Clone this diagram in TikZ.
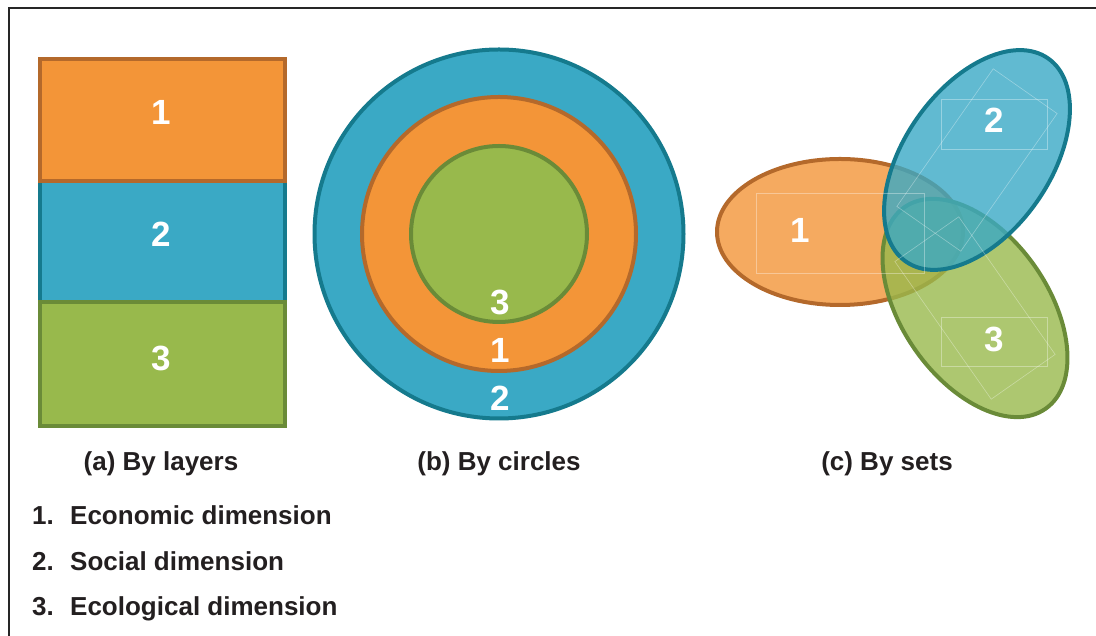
\documentclass[tikz,border=0pt]{standalone}
\usepackage{fontspec}
\setmainfont{Liberation Sans}
\usepackage{tikz}
\usetikzlibrary{calc}

\definecolor{orfill}{HTML}{F39538}
\definecolor{ordraw}{HTML}{B4692B}
\definecolor{blfill}{HTML}{3AA9C5}
\definecolor{bldraw}{HTML}{157A8D}
\definecolor{grfill}{HTML}{98B94C}
\definecolor{grdraw}{HTML}{6A8B38}
\definecolor{txt}{HTML}{231F20}

\begin{document}
\begin{tikzpicture}[x=1pt,y=1pt,
  num/.style={text=white, font=\fontsize{35}{35}\selectfont\bfseries, inner sep=0pt},
  captext/.style={text=txt, font=\fontsize{26}{26}\selectfont\bfseries, inner sep=0pt, anchor=base},
  part/.style={line width=4},
  set/.style={line width=4, fill opacity=0.8},
  guide/.style={draw=white, line width=0.6, opacity=0.35}]
\useasboundingbox (0,0) rectangle (1096,636);
\draw[line width=1.5, black!85] (9,-5)--(9,628)--(1101,628);

% (a) by layers
\draw[part, fill=blfill, draw=bldraw] (40,334) rectangle (285,455);
\draw[part, fill=orfill, draw=ordraw] (40,455) rectangle (285,577);
\draw[part, fill=grfill, draw=grdraw] (40,210) rectangle (285,334);
\node[num] (a1) at (161,524) {1};
\node[num] (a2) at (161,401.5) {2};
\node[num] (a3) at (161,278) {3};

% (b) by circles
\draw[part, fill=blfill, draw=bldraw] (499,402) circle (184.5);
\draw[part, fill=orfill, draw=ordraw] (499,402) circle (137);
\draw[part, fill=grfill, draw=grdraw] (499,402) circle (88);
\node[num] (b3) at (500,334) {3};
\node[num] (b1) at (500,285.5) {1};
\node[num] (b2) at (500,237.5) {2};

% (c) by sets
\draw[set, fill=orfill, draw=ordraw] (840,404) ellipse [x radius=123, y radius=73];
\draw[set, fill=grfill, draw=grdraw, rotate around={-55:(975,328)}] (975,328) ellipse [x radius=123, y radius=73];
\draw[set, fill=blfill, draw=bldraw, rotate around={55:(977,476)}] (977,476) ellipse [x radius=124, y radius=73];
\draw[guide] (756,363) rectangle (924,443);
\draw[guide] (941,487) rectangle (1047,537);
\draw[guide] (941,270) rectangle (1047,319);
\draw[guide, shift={(977,476)}, rotate=55] (-84,-39)--(84,-39)--(84,39)--(-84,39)--cycle;
\draw[guide, shift={(975,328)}, rotate=-55] (-84,-39)--(84,-39)--(84,39)--(-84,39)--cycle;
\node[num] (c1) at (800,405.5) {1};
\node[num] (c2) at (994,515.5) {2};
\node[num] (c3) at (994,296.5) {3};

% captions
\node[captext] (capa) at (161,165) {(a) By layers};
\node[captext] (capb) at (499,165) {(b) By circles};
\node[captext] (capc) at (887,165) {(c) By sets};

% legend
\foreach \k/\lbl/\yy in {1/Economic/111, 2/Social/65, 3/Ecological/20} {
  \node[captext, anchor=base west] (k\k) at (32,\yy) {\k.};
  \node[captext, anchor=base west] (d\k) at (70,\yy) {\lbl\ dimension};
}
\end{tikzpicture}
\end{document}
